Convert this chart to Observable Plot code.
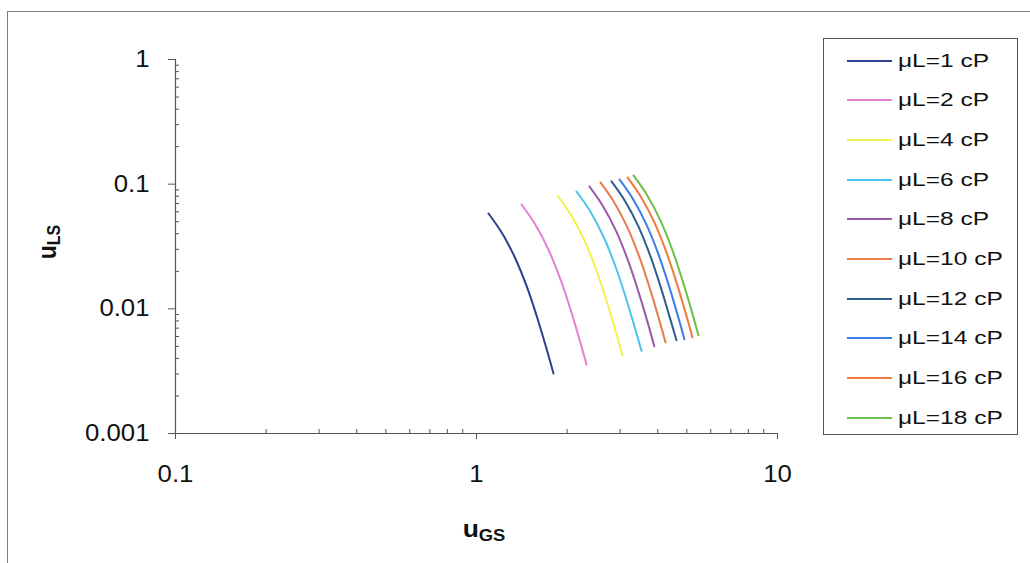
<!DOCTYPE html>
<html><head><meta charset="utf-8">
<script src="https://cdn.jsdelivr.net/npm/d3@7"></script>
<script src="https://cdn.jsdelivr.net/npm/@observablehq/plot@0.6"></script>
<style>
body{margin:0;background:#fff;}
#wrap{position:relative;width:1030px;height:563px;overflow:hidden;font-family:"Liberation Sans",Arial,sans-serif;background:#fff;}
#frame{position:absolute;left:7px;top:11px;width:1040px;height:570px;border-top:1.5px solid #7a7a7a;border-left:1.5px solid #7a7a7a;}
#chart{position:absolute;left:0;top:0;}
#legend{position:absolute;left:823px;top:38px;width:195px;height:397px;border:1px solid #555;box-sizing:border-box;background:#fff;}
.row{position:absolute;left:0;height:24px;display:flex;align-items:center;}
.sw{width:45px;height:2px;margin-left:23px;}
.lab{margin-left:6px;font-size:19px;color:#111;transform:scaleX(1.29);transform-origin:left center;white-space:nowrap;}
#chart text{}
</style></head><body>
<div id="wrap"><div id="frame"></div><div id="chart"></div><div id="legend"></div></div>
<script>
// Series labels and colours
const seriesLabels = ["μL=1 cP","μL=2 cP","μL=4 cP","μL=6 cP","μL=8 cP","μL=10 cP","μL=12 cP","μL=14 cP","μL=16 cP","μL=18 cP"];
const seriesColors = ["#2e3f8f","#e77fd6","#f2f24c","#4cc3f0","#9a5aa8","#e57c4a","#2d5e8e","#3d7de6","#f07a3c","#6cc04a"];

// Values (u_GS, u_LS)
const ugs1 = [1.096, 1.218, 1.346, 1.477, 1.594, 1.708, 1.802];
const uls1 = [0.0582, 0.04023, 0.02535, 0.01457, 0.008375, 0.004813, 0.003033];
const ugs2 = [1.411, 1.568, 1.733, 1.901, 2.053, 2.199, 2.320];
const uls2 = [0.0687, 0.04749, 0.02993, 0.01720, 0.009886, 0.005681, 0.003580];
const ugs4 = [1.858, 2.065, 2.283, 2.504, 2.703, 2.896, 3.055];
const uls4 = [0.0811, 0.05606, 0.03533, 0.02031, 0.01167, 0.006707, 0.004226];
const ugs6 = [2.149, 2.388, 2.640, 2.896, 3.126, 3.349, 3.533];
const uls6 = [0.0873, 0.06034, 0.03803, 0.02186, 0.01256, 0.007220, 0.004600];
const ugs8 = [2.371, 2.635, 2.913, 3.195, 3.449, 3.695, 3.898];
const uls8 = [0.0959, 0.06629, 0.04177, 0.02401, 0.01380, 0.007931, 0.004997];
const ugs10 = [2.582, 2.869, 3.172, 3.480, 3.756, 4.024, 4.245];
const uls10 = [0.1033, 0.07140, 0.04500, 0.02587, 0.01486, 0.008543, 0.005383];
const ugs12 = [2.808, 3.121, 3.450, 3.784, 4.085, 4.376, 4.617];
const uls12 = [0.1052, 0.07271, 0.04583, 0.02634, 0.01514, 0.008700, 0.005600];
const ugs14 = [2.985, 3.317, 3.667, 4.023, 4.343, 4.652, 4.908];
const uls14 = [0.1091, 0.07541, 0.04752, 0.02732, 0.01570, 0.009023, 0.005685];
const ugs16 = [3.174, 3.527, 3.899, 4.277, 4.618, 4.946, 5.219];
const uls16 = [0.1132, 0.07824, 0.04931, 0.02835, 0.01629, 0.009362, 0.005899];
const ugs18 = [3.323, 3.693, 4.082, 4.478, 4.834, 5.179, 5.464];
const uls18 = [0.1175, 0.08122, 0.05118, 0.02942, 0.01691, 0.009717, 0.006123];

// Ticks
const xTicks = [0.1, 1, 10];
const xTickLabels = ["0.1", "1", "10"];
const yTicks = [1, 0.1, 0.01, 0.001];
const yTickLabels = ["1", "0.1", "0.01", "0.001"];
const xMinorTicks = [0.2,0.3,0.4,0.5,0.6,0.7,0.8,0.9,2,3,4,5,6,7,8,9];
const yMinorTicks = [0.002,0.003,0.004,0.005,0.006,0.007,0.008,0.009,0.02,0.03,0.04,0.05,0.06,0.07,0.08,0.09,0.2,0.3,0.4,0.5,0.6,0.7,0.8,0.9];

const xs = [ugs1, ugs2, ugs4, ugs6, ugs8, ugs10, ugs12, ugs14, ugs16, ugs18];
const ys = [uls1, uls2, uls4, uls6, uls8, uls10, uls12, uls14, uls16, uls18];
const rows = [];
xs.forEach((arr, i) => arr.forEach((x, j) => rows.push({series: seriesLabels[i], ugs: x, uls: ys[i][j]})));

const axisColor = "#555";
const chart = Plot.plot({
  width: 1030, height: 563,
  marginLeft: 175, marginRight: 253, marginTop: 59, marginBottom: 130,
  style: {fontFamily: "'Liberation Sans', Arial, sans-serif", background: "transparent", color: "#111", overflow: "visible"},
  x: {type: "log", domain: [0.1, 10], axis: null, label: null},
  y: {type: "log", domain: [0.001, 1], axis: null, label: null},
  color: {domain: seriesLabels, range: seriesColors},
  marks: [
    Plot.ruleY([0.001], {stroke: axisColor, strokeWidth: 1.2}),
    Plot.ruleX([0.1], {stroke: axisColor, strokeWidth: 1.2}),
    Plot.axisX({ticks: xMinorTicks, tickSize: 4, dy: -4, tickFormat: () => "", stroke: axisColor}),
    Plot.axisY({ticks: yMinorTicks, tickSize: 4, dx: 4, tickFormat: () => "", stroke: axisColor}),
    Plot.axisX({ticks: xTicks, tickSize: 6, tickPadding: 26, fontSize: 23, stroke: axisColor, fill: "#111",
      tickFormat: (d) => xTickLabels[xTicks.indexOf(d)]}),
    Plot.axisY({ticks: yTicks, tickSize: 7, tickPadding: 19, fontSize: 23, stroke: axisColor, fill: "#111",
      tickFormat: (d) => yTickLabels[yTicks.indexOf(d)]}),
    Plot.line(rows, {x: "ugs", y: "uls", z: "series", stroke: "series", strokeWidth: 2, curve: "catmull-rom"})
  ]
});
document.getElementById("chart").appendChild(chart);

// stretch tick labels horizontally like the reference
d3.select(chart).selectAll('g[aria-label$="tick label"] text').each(function() {
  const w = this.getComputedTextLength();
  if (w > 0) { this.setAttribute("textLength", w * 1.12); this.setAttribute("lengthAdjust", "spacingAndGlyphs"); }
});

// axis titles with subscripts
const svg = d3.select(chart);
const xt = svg.append("text").attr("transform", "translate(484,537) scale(1.15,1)").attr("text-anchor", "middle")
  .attr("font-weight", "bold").attr("font-size", 23).attr("fill", "#111");
xt.append("tspan").text("u");
xt.append("tspan").attr("font-size", 16).attr("dy", 4).text("GS");
const yt = svg.append("text").attr("transform", "translate(56,242) scale(1.12,1) rotate(-90)").attr("text-anchor", "middle")
  .attr("font-weight", "bold").attr("font-size", 23).attr("fill", "#111");
yt.append("tspan").text("u");
yt.append("tspan").attr("font-size", 16).attr("dy", 4).text("LS");

// legend
const legend = document.getElementById("legend");
seriesLabels.forEach((lab, i) => {
  const row = document.createElement("div");
  row.className = "row";
  row.style.top = (22 + i * 39.7 - 12.5) + "px";
  const sw = document.createElement("div");
  sw.className = "sw"; sw.style.background = seriesColors[i];
  const t = document.createElement("span");
  t.className = "lab"; t.textContent = lab;
  row.appendChild(sw); row.appendChild(t);
  legend.appendChild(row);
});
</script>
</body></html>
